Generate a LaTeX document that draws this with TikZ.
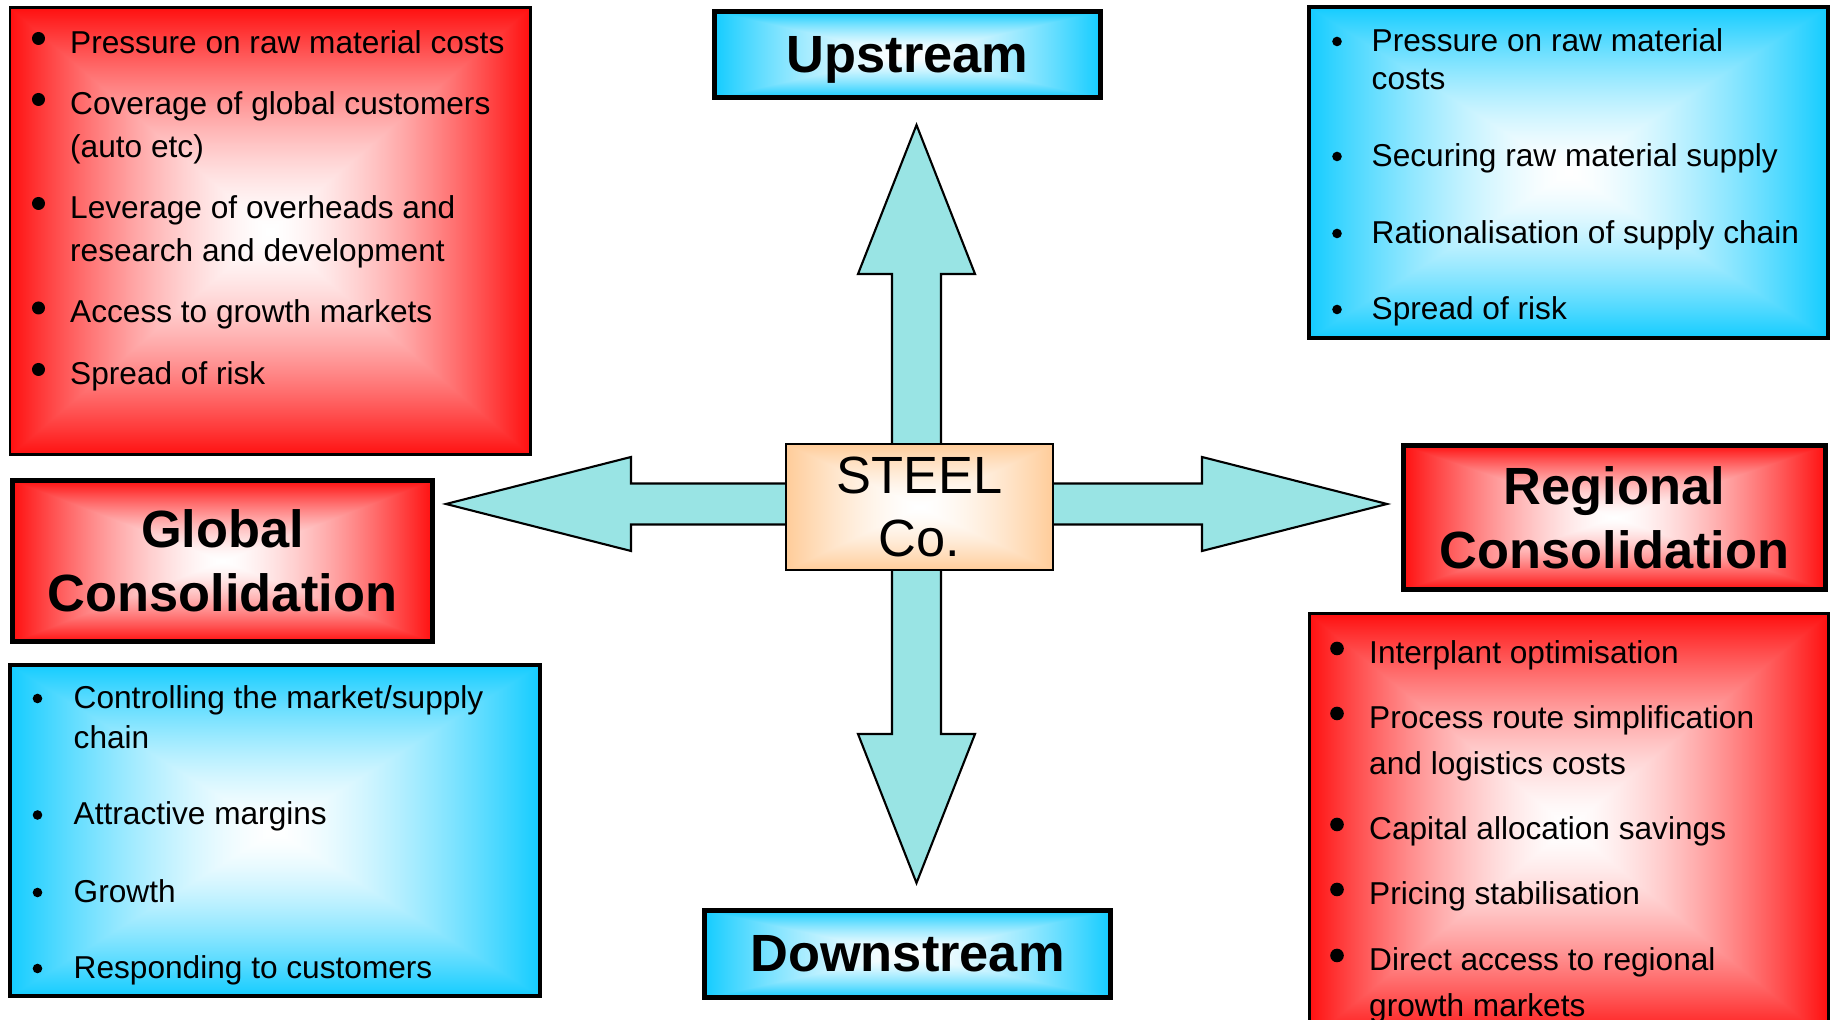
\documentclass[tikz,border=0pt]{standalone}
\usepackage{fontspec}
\setmainfont{Liberation Sans}
\definecolor{arrowteal}{RGB}{153,228,228}
\pgfdeclarefunctionalshading{glowred}{\pgfpoint{-50bp}{-50bp}}{\pgfpoint{50bp}{50bp}}{}{abs exch abs 2 copy sub abs add add 50 div dup sqrt mul dup 0 mul 1 exch sub exch dup 0.937 mul 1 exch sub exch 0.937 mul 1 exch sub}
\pgfdeclarefunctionalshading{glowcyan}{\pgfpoint{-50bp}{-50bp}}{\pgfpoint{50bp}{50bp}}{}{abs exch abs 2 copy sub abs add add 50 div dup sqrt mul dup 0.922 mul 1 exch sub exch dup 0.2 mul 1 exch sub exch 0 mul 1 exch sub}
\pgfdeclarefunctionalshading{glowpeach}{\pgfpoint{-50bp}{-50bp}}{\pgfpoint{50bp}{50bp}}{}{abs exch abs 2 copy sub abs add add 50 div dup sqrt mul dup 0 mul 1 exch sub exch dup 0.2 mul 1 exch sub exch 0.4 mul 1 exch sub}
\tikzset{
  redbox/.style={draw, shade, shading=glowred},
  cyanbox/.style={draw, shade, shading=glowcyan},
  headbox/.style={line width=1.4pt, align=center, font=\fontsize{14.9}{18.2}\selectfont\bfseries},
  itemtext/.style={anchor=base west, inner sep=0pt, font=\fontsize{9}{11}\selectfont},
  blockarrow/.style={fill=arrowteal, draw, line width=0.6pt},
}
\begin{document}
\begin{tikzpicture}
    \useasboundingbox (0,0) rectangle (18.34,10.20);
    \clip (0,0) rectangle (18.34,10.20);
    \path[redbox, line width=0.85pt] (0.10,5.65) rectangle (5.30,10.12);
    \path[cyanbox, line width=1.15pt] (13.09,6.82) rectangle (18.28,10.13);
    \path[cyanbox, line width=1.15pt] (0.10,0.24) rectangle (5.40,3.55);
    \path[redbox, line width=0.85pt] (13.09,-0.20) rectangle (18.28,4.06);
    \node[headbox, cyanbox, minimum width=3.86cm, minimum height=0.86cm, text depth=0pt] (upstream) at (9.075,9.655) {Upstream};
    \node[headbox, cyanbox, minimum width=4.06cm, minimum height=0.87cm] (downstream) at (9.075,0.66) {Downstream};
    \node[headbox, redbox, minimum width=4.20cm, minimum height=1.61cm] (global) at (2.225,4.59) {Global\\Consolidation};
    \node[headbox, redbox, minimum width=4.22cm, minimum height=1.44cm] (regional) at (16.145,5.025) {Regional\\Consolidation};
    \coordinate (hub) at (9.165,5.16);
    \filldraw[blockarrow] (hub) ++(-0.245,0) -- ++(0,2.30) -- ++(-0.34,0) -- ++(0.585,1.49) -- ++(0.585,-1.49) -- ++(-0.34,0) -- ++(0,-2.30) -- cycle;
    \filldraw[blockarrow] (hub) ++(-0.245,0) -- ++(0,-2.30) -- ++(-0.34,0) -- ++(0.585,-1.49) -- ++(0.585,1.49) -- ++(-0.34,0) -- ++(0,2.30) -- cycle;
    \filldraw[blockarrow] (hub) ++(0,0.205) -- ++(-2.855,0) -- ++(0,0.265) -- ++(-1.85,-0.47) -- ++(1.85,-0.47) -- ++(0,0.265) -- ++(2.855,0) -- cycle;
    \filldraw[blockarrow] (hub) ++(0,0.205) -- ++(2.855,0) -- ++(0,0.265) -- ++(1.85,-0.47) -- ++(-1.85,-0.47) -- ++(0,0.265) -- ++(-2.855,0) -- cycle;
    \node[draw, shade, shading=glowpeach, line width=0.6pt, minimum width=2.67cm, minimum height=1.26cm, align=center, font=\fontsize{14.9}{18.2}\selectfont] (steel) at (9.195,5.13) {STEEL\\Co.};
    \fill (0.385,9.815) circle (0.065);
    \fill (0.385,9.205) circle (0.065);
    \fill (0.385,8.165) circle (0.065);
    \fill (0.385,7.12) circle (0.065);
    \fill (0.385,6.505) circle (0.065);
    \node[itemtext] (tl1) at (0.695,9.665) {Pressure on raw material costs};
    \node[itemtext] (tl2) at (0.695,9.055) {Coverage of global customers};
    \node[itemtext] (tl3) at (0.695,8.62) {(auto etc)};
    \node[itemtext] (tl4) at (0.695,8.015) {Leverage of overheads and};
    \node[itemtext] (tl5) at (0.695,7.585) {research and development};
    \node[itemtext] (tl6) at (0.695,6.97) {Access to growth markets};
    \node[itemtext] (tl7) at (0.695,6.355) {Spread of risk};
    \fill (13.37,9.785) circle (0.048);
    \fill (13.37,8.635) circle (0.048);
    \fill (13.37,7.865) circle (0.048);
    \fill (13.37,7.105) circle (0.048);
    \node[itemtext] (tr1) at (13.71,9.68) {Pressure on raw material};
    \node[itemtext] (tr2) at (13.71,9.30) {costs};
    \node[itemtext] (tr3) at (13.71,8.53) {Securing raw material supply};
    \node[itemtext] (tr4) at (13.71,7.76) {Rationalisation of supply chain};
    \node[itemtext] (tr5) at (13.71,7.00) {Spread of risk};
    \fill (0.375,3.215) circle (0.048);
    \fill (0.375,2.05) circle (0.048);
    \fill (0.375,1.275) circle (0.048);
    \fill (0.375,0.515) circle (0.048);
    \node[itemtext] (bl1) at (0.73,3.115) {Controlling the market/supply};
    \node[itemtext] (bl2) at (0.73,2.715) {chain};
    \node[itemtext] (bl3) at (0.73,1.95) {Attractive margins};
    \node[itemtext] (bl4) at (0.73,1.175) {Growth};
    \node[itemtext] (bl5) at (0.73,0.415) {Responding to customers};
    \fill (13.37,3.715) circle (0.068);
    \fill (13.37,3.065) circle (0.068);
    \fill (13.37,1.955) circle (0.068);
    \fill (13.37,1.305) circle (0.068);
    \fill (13.37,0.645) circle (0.068);
    \node[itemtext] (br1) at (13.685,3.56) {Interplant optimisation};
    \node[itemtext] (br2) at (13.685,2.91) {Process route simplification};
    \node[itemtext] (br3) at (13.685,2.45) {and logistics costs};
    \node[itemtext] (br4) at (13.685,1.80) {Capital allocation savings};
    \node[itemtext] (br5) at (13.685,1.15) {Pricing stabilisation};
    \node[itemtext] (br6) at (13.685,0.49) {Direct access to regional};
    \node[itemtext] (br7) at (13.685,0.03) {growth markets};
\end{tikzpicture}
\end{document}
